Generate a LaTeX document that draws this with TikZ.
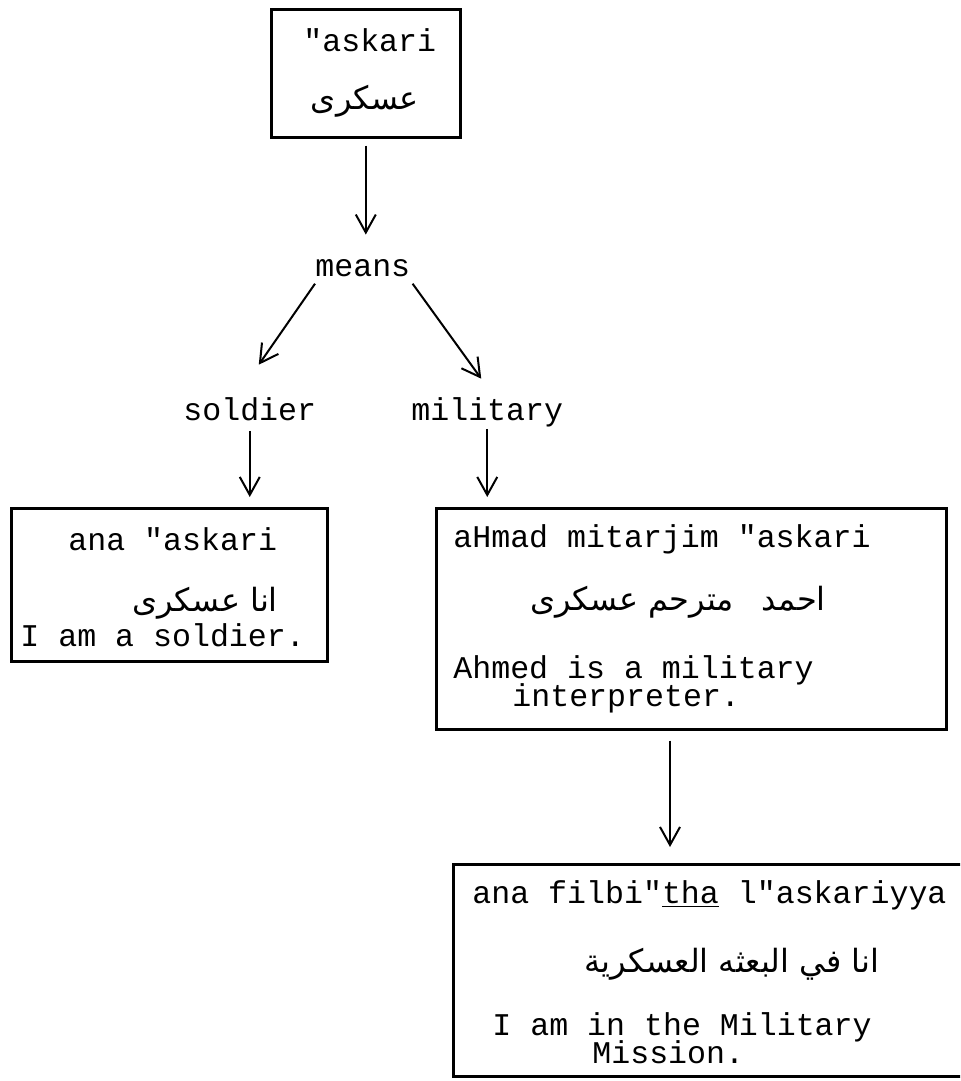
\documentclass[tikz,border=0pt]{standalone}
\usepackage{fontspec}
\setmonofont{Liberation Mono}
\newfontfamily\arabicfont[Script=Arabic]{DejaVu Sans}
\TeXXeTstate=1
\usetikzlibrary{arrows.meta}

\tikzset{
  mono/.style={font=\ttfamily\fontsize{15.8}{19}\selectfont, inner sep=0pt, anchor=base west},
  arab/.style={font=\arabicfont\fontsize{16}{20}\selectfont, inner sep=0pt, anchor=base},
  frame/.style={draw, line width=1.3pt, inner sep=0pt, anchor=north west},
  arr/.style={line width=1pt, -{Straight Barb[length=9pt,width=10pt,line width=1pt]}},
}

\begin{document}
\begin{tikzpicture}[x=0.5pt,y=-0.5pt]
\useasboundingbox (0,0) rectangle (960,1081);
\clip (0,0) rectangle (960,1081);

% root word
\node[frame, minimum width=94.5pt, minimum height=64pt] (root) at (270,8) {};
\node[mono] (rootlat) at (303,52) {"askari};
\node[arab] (rootar) at (365,110) {\beginR عسكرى\endR};

% meanings
\node[mono] (means) at (315,276) {means};
\node[mono] (soldier) at (183,420) {soldier};
\node[mono] (military) at (411,420) {military};

% example: soldier
\node[frame, minimum width=158pt, minimum height=76.5pt] (ex1) at (10,507) {};
\node[mono] (ex1lat) at (68,550) {ana "askari};
\node[arab] (ex1ar) at (205,611) {\beginR انا عسكرى\endR};
\node[mono] (ex1en) at (20,646) {I am a soldier.};

% example: military
\node[frame, minimum width=255pt, minimum height=110.5pt] (ex2) at (435,507) {};
\node[mono] (ex2lat) at (453,547) {aHmad mitarjim "askari};
\node[arab] (ex2ar) at (678,610) {\beginR احمد\hspace{14pt}مترحم عسكرى\endR};
\node[mono] (ex2en) at (453,678) {Ahmed is a military};
\node[mono] (ex2en2) at (512,706) {interpreter.};

% example: military mission
\node[frame, minimum width=270pt, minimum height=106pt] (ex3) at (452,863) {};
\node[mono] (ex3lat) at (472,903) {ana filbi"\underline{tha} l"askariyya};
\node[arab] (ex3ar) at (732,972) {\beginR انا في البعثه العسكرية\endR};
\node[mono] (ex3en) at (492,1035) {I am in the Military};
\node[mono] (ex3en2) at (592,1063) {Mission.};

% connectors
\draw[arr, shorten <=3.5pt, shorten >=12pt] (root.south) -- (root.south |- means.north);
\draw[arr] ([yshift=-3.5pt]means.south west) -- ([xshift=4.5pt,yshift=16pt]soldier.north);
\draw[arr] ([xshift=1pt,yshift=-3.5pt]means.south east) -- ([xshift=-3pt,yshift=9pt]military.north);
\draw[arr, shorten <=5pt, shorten >=5pt] (soldier.south) -- (soldier.south |- ex1.north);
\draw[arr, shorten <=1pt, shorten >=5pt] (military.south) -- (military.south |- ex2.north);
\draw[arr, shorten <=5pt, shorten >=8pt] ([xshift=117.5pt]ex2.south west) -- ([xshift=117.5pt]ex2.south west |- ex3.north);
\end{tikzpicture}
\end{document}
